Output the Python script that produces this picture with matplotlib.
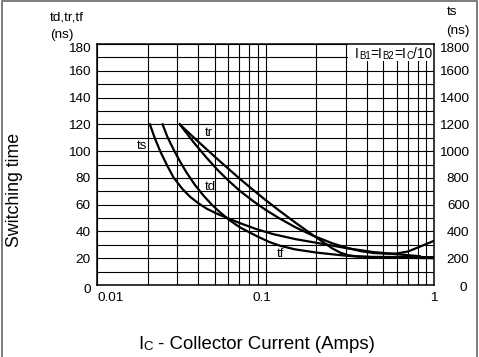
import matplotlib.pyplot as plt
import numpy as np
from matplotlib import transforms
from matplotlib.patches import Rectangle
from matplotlib.ticker import FixedLocator

plt.rcParams['font.family'] = ['Liberation Sans', 'DejaVu Sans']

# ______________________________________________________________________________
# Data (Ic in A, times in ns; ts drawn on the /10 scale)

ts_x = [0.0206, 0.022, 0.0237, 0.026, 0.0284, 0.032, 0.0356, 0.04, 0.0448, 0.052,
        0.06, 0.0706, 0.088, 0.111, 0.15, 0.201, 0.303, 0.437, 0.6, 0.826]
ts_y = [120, 109.9, 100, 89.6, 80.5, 72, 66, 61, 57, 53,
        49.8, 46.2, 41.8, 38, 34.3, 31.5, 27.5, 24.6, 23, 21.5]

tf_x = [0.0245, 0.0262, 0.0284, 0.031, 0.034, 0.038, 0.0427, 0.048, 0.0537, 0.0615,
        0.0706, 0.0887, 0.105, 0.122, 0.15, 0.201, 0.303, 0.4, 0.548, 0.75, 1.0]
tf_y = [120, 110.5, 101.5, 92.5, 84, 75, 67, 60, 54.3, 48.2,
        43, 36.5, 32.2, 29.3, 26.6, 24.2, 21.8, 21, 20.5, 20.2, 20]

tr_x = [0.031, 0.038, 0.0448, 0.052, 0.06, 0.0706, 0.085, 0.1, 0.12, 0.15,
        0.192, 0.25, 0.28, 0.31, 0.35, 0.42, 0.7, 1.0]
tr_y = [120, 109.5, 101.3, 93.9, 87, 79.2, 70.7, 63.5, 55.8, 46.7,
        37.1, 27.2, 24, 22.2, 21.3, 21, 20.9, 20.8]

td_x = [0.031, 0.034, 0.038, 0.0448, 0.052, 0.06, 0.0706, 0.085, 0.1, 0.12,
        0.15, 0.192, 0.25, 0.303, 0.37, 0.437, 0.52, 0.6, 0.7, 0.82, 1.0]
td_y = [120, 113.4, 105.6, 94.9, 85.9, 78.2, 70.2, 62.4, 56.2, 50,
        43.2, 36.8, 31.1, 27.8, 25.2, 23.9, 23.4, 23.5, 25, 28.5, 33]

left_ticks = [0, 20, 40, 60, 80, 100, 120, 140, 160, 180]
right_ticks = [0, 200, 400, 600, 800, 1000, 1200, 1400, 1600, 1800]
x_ticks = [0.01, 0.1, 1]
x_tick_labels = ['0.01', '0.1', '1']

curve_labels = {'ts': (0.0184, 104), 'tr': (0.0462, 113.5), 'td': (0.0469, 73), 'tf': (0.123, 22.8)}

# ______________________________________________________________________________

fig = plt.figure(figsize=(4.79, 3.57), dpi=100)
ax = fig.add_axes([97 / 479, 1 - 285 / 357, 337 / 479, 241 / 357])
ax.set_xscale('log')
ax.set_xlim(0.01, 1)
ax.set_ylim(0, 180)

minor_x = [m * d for d in (0.01, 0.1) for m in range(2, 10)]
ax.xaxis.set_major_locator(FixedLocator(x_ticks))
ax.xaxis.set_minor_locator(FixedLocator(minor_x))
ax.set_yticks(np.arange(0, 181, 10))
ax.tick_params(which='both', length=0, labelbottom=False, labelleft=False)
ax.set_axisbelow(True)
ax.grid(True, which='both', color='black', lw=0.8)
for s in ax.spines.values():
    s.set_linewidth(1.1)

# white box behind the base current note
ax.add_patch(Rectangle((0.31, 167), 0.69, 13, facecolor='white', edgecolor='none', zorder=1))

for xs, ys in [(ts_x, ts_y), (tf_x, tf_y), (tr_x, tr_y), (td_x, td_y)]:
    ax.plot(xs, ys, color='black', lw=1.6, zorder=3, solid_joinstyle='round')

for name, (x, y) in curve_labels.items():
    ax.text(x, y, name, fontsize=9.5, ha='center', va='center', zorder=4)

ax2 = ax.twinx()
ax2.set_ylim(0, 1800)
ax2.set_yticks([])
for s in ax2.spines.values():
    s.set_visible(False)

# tick labels
ytr = ax.get_yaxis_transform()
for v in left_ticks:
    dy = -3.6 if v in (0, 180) else -1.0
    t = transforms.offset_copy(ytr, fig=fig, x=-4.5, y=dy, units='points')
    ax.text(0, v, str(v), transform=t, fontsize=9.7, ha='right', va='center')

ytr2 = ax2.get_yaxis_transform()
for v in right_ticks:
    dy = {1800: -3.6, 0: -2.2}.get(v, -1.0)
    dx = 25.5 if v else 24.0
    t = transforms.offset_copy(ytr2, fig=fig, x=dx, y=dy, units='points')
    ax2.text(1, v, str(v), transform=t, fontsize=9.7, ha='right', va='center')

xtr = ax.get_xaxis_transform()
for v, lab, ha, dx in zip(x_ticks, x_tick_labels, ['left', 'center', 'center'], [0, -2.8, -0.5]):
    t = transforms.offset_copy(xtr, fig=fig, x=dx, y=-9.5, units='points')
    ax.text(v, 0, lab, transform=t, fontsize=9.7, ha=ha, va='center')


def chain_text(start, parts, coords, **kw):
    """Write pieces of text one after another, each piece with its own size."""
    prev = ax.annotate(parts[0][0], xy=start, xycoords=coords, fontsize=parts[0][1],
                       ha='left', va='baseline', annotation_clip=False, **kw)
    for s, size in parts[1:]:
        prev = ax.annotate(s, xy=(1, 0), xycoords=prev, fontsize=size,
                           ha='left', va='bottom', annotation_clip=False, **kw)


chain_text((0.34, 169.3), [('I', 10), ('B1', 7), ('=I', 10), ('B2', 7), ('=I', 10), ('C', 7), ('/10', 10)],
           'data', zorder=4)
chain_text((138 / 479, 1 - 349 / 357), [('I', 13.4), ('C', 9.5), (' - Collector Current (Amps)', 13.4)],
           'figure fraction')

fig.text(15 / 479, 1 - 190 / 357, 'Switching time', rotation=90, fontsize=12.8, ha='center', va='center')
fig.text(50 / 479, 1 - 18 / 357, 'td,tr,tf', fontsize=9.7, ha='left', va='center')
fig.text(50 / 479, 1 - 35 / 357, '(ns)', fontsize=9.7, ha='left', va='center')
fig.text(452.5 / 479, 1 - 12 / 357, 'ts', fontsize=9.7, ha='center', va='center')
fig.text(470 / 479, 1 - 31 / 357, '(ns)', fontsize=9.7, ha='right', va='center')

fig.patches.append(Rectangle((0.005, -0.05), 0.99, 1.046, transform=fig.transFigure,
                             fill=False, edgecolor='#666666', lw=1.2))

fig.savefig('out.png', dpi=100)
